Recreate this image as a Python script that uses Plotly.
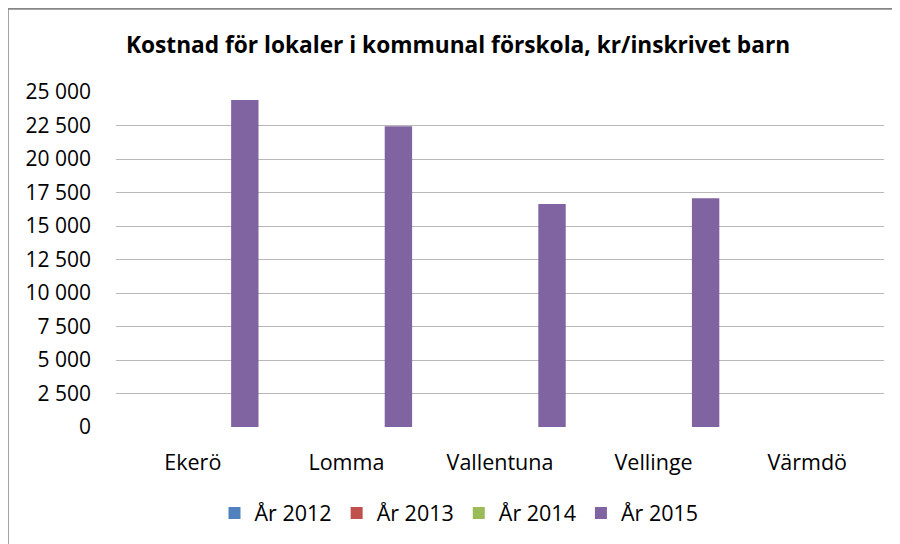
import plotly.graph_objects as go

categories = ["Ekerö", "Lomma", "Vallentuna", "Vellinge", "Värmdö"]
series_names = ["År 2012", "År 2013", "År 2014", "År 2015"]
values_2012 = [None, None, None, None, None]
values_2013 = [None, None, None, None, None]
values_2014 = [None, None, None, None, None]
values_2015 = [24400, 22450, 16640, 17080, None]
colors = ["#4F81BD", "#C0504D", "#9BBB59", "#8064A2"]
y_ticks = [0, 2500, 5000, 7500, 10000, 12500, 15000, 17500, 20000, 22500, 25000]
y_tick_labels = ["0", "2 500", "5 000", "7 500", "10 000", "12 500", "15 000",
                 "17 500", "20 000", "22 500", "25 000"]

all_values = [values_2012, values_2013, values_2014, values_2015]

FONT = "Open Sans, Noto Sans, sans-serif"

fig = go.Figure()
for name, vals, col in zip(series_names, all_values, colors):
    fig.add_trace(go.Bar(
        x=categories, y=vals, name=name,
        marker=dict(color=col, line=dict(width=0)),
    ))

# page has an 8px body margin; figure coordinates are page coordinates - 8
OFF = 8
W, H = 892, 536
L, R, T, B = 116 - OFF, 16, 92 - OFF, 117
pw = W - L - R
ph = H - T - B

def px_x(p):
    return (p - OFF - L) / pw

def px_y(p):
    return (H - B - (p - OFF)) / ph

border = dict(color="#868686", width=2.5)

fig.update_layout(
    width=W, height=H,
    margin=dict(l=L, r=R, t=T, b=B, pad=0),
    paper_bgcolor="white", plot_bgcolor="white",
    barmode="group", bargap=0.097, bargroupgap=0.21,
    title=dict(
        text="<b>Kostnad för lokaler i kommunal förskola, kr/inskrivet barn</b>",
        x=(458 - OFF) / W, xanchor="center", y=1 - (45 - OFF) / H, yanchor="middle",
        font=dict(family=FONT, size=22.7, color="#000000"),
    ),
    font=dict(family=FONT, size=21, color="#000000"),
    showlegend=True,
    legend=dict(
        orientation="h", x=(459 - OFF) / W, xref="container", xanchor="center",
        y=1 - (513 - OFF) / H, yref="container", yanchor="middle",
        font=dict(family=FONT, size=21.5, color="#000000"),
        traceorder="normal", itemwidth=30,
    ),
    xaxis=dict(
        showgrid=False, showline=False, ticks="", zeroline=False,
        ticklabelstandoff=20,
        tickfont=dict(family=FONT, size=21.5, color="#000000"),
    ),
    yaxis=dict(
        range=[0, 25000], tickvals=y_ticks, ticktext=y_tick_labels,
        showgrid=True, gridcolor="#B8B8B8", gridwidth=1.3,
        zeroline=False, showline=False, ticks="",
        ticklabelstandoff=24,
        tickfont=dict(family=FONT, size=21, color="#000000"),
    ),
    shapes=[
        dict(type="line", xref="paper", yref="paper",
             x0=px_x(7.5), x1=px_x(7.5), y0=px_y(560), y1=px_y(7.3),
             line=border, layer="above"),
        dict(type="line", xref="paper", yref="paper",
             x0=px_x(6.3), x1=px_x(910), y0=px_y(8.5), y1=px_y(8.5),
             line=border, layer="above"),
    ],
)

fig.write_html("out.html")
